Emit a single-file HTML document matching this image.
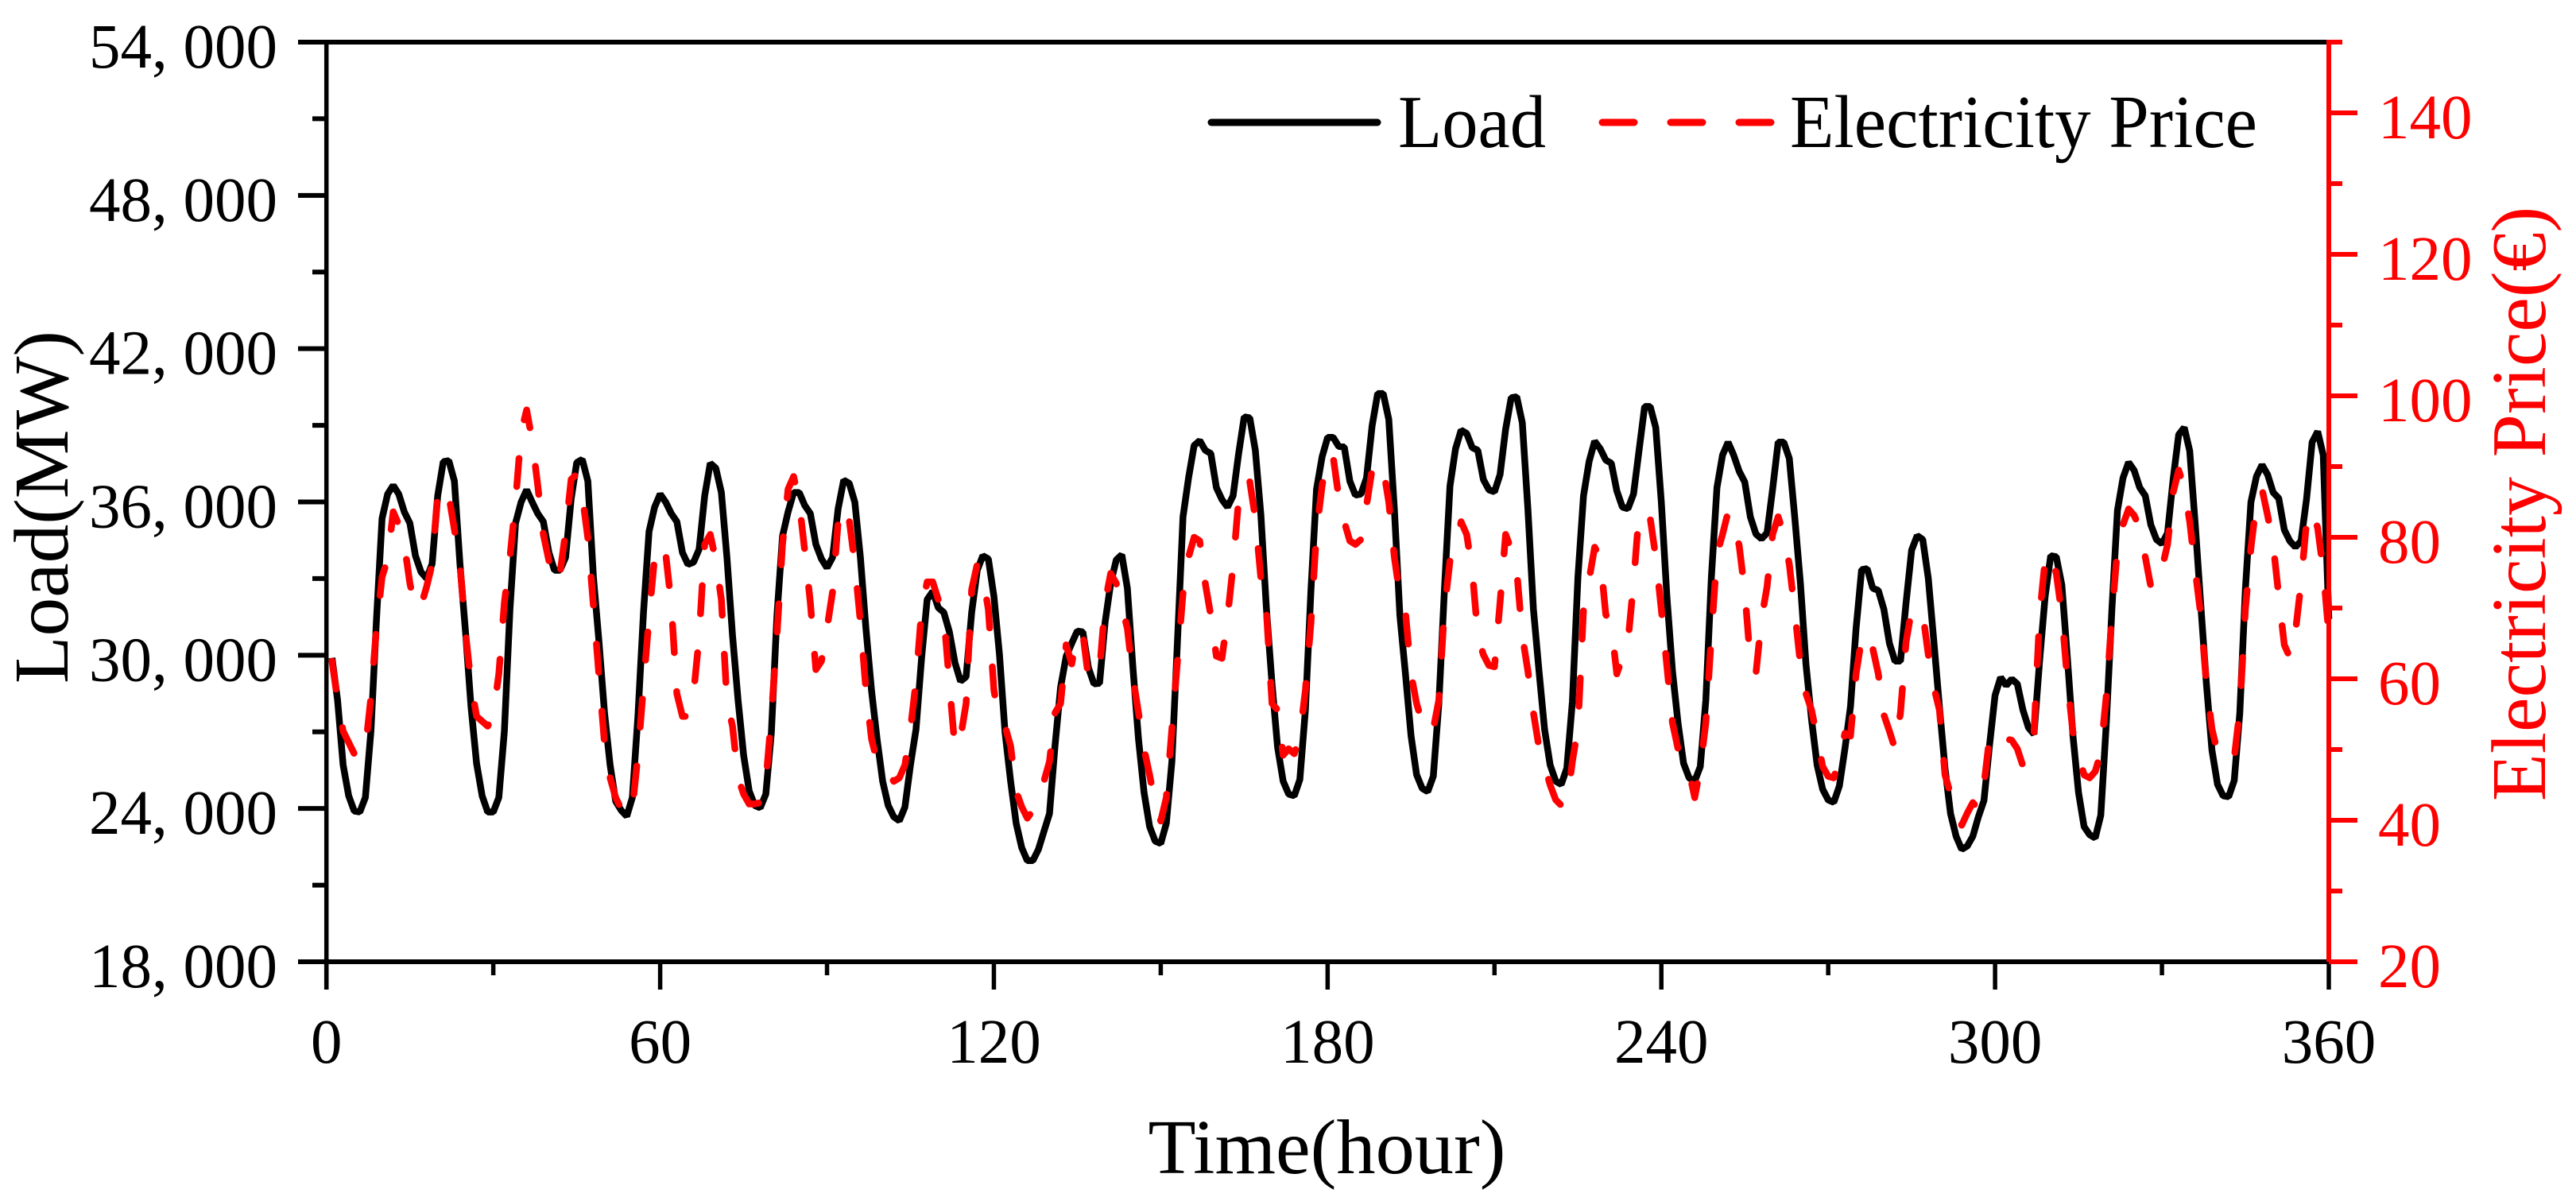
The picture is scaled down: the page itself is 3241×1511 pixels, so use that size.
<!DOCTYPE html>
<html>
<head>
<meta charset="utf-8">
<title>Load and Electricity Price</title>
<style>
html,body{margin:0;padding:0;background:#fff;}
svg{display:block;}
text{font-family:"Liberation Serif",serif;}
</style>
</head>
<body>
<svg id="chart" width="3241" height="1511" viewBox="0 0 3241 1511" xmlns="http://www.w3.org/2000/svg">
  <rect x="0" y="0" width="3241" height="1511" fill="#fff"/>
  <g id="series"></g>
  <g id="axes"></g>
  <text x="1669.5" y="1476" font-size="98" textLength="450" lengthAdjust="spacingAndGlyphs" text-anchor="middle" fill="#000">Time(hour)</text>
  <text transform="translate(85,638) rotate(-90)" font-size="97.5" text-anchor="middle" fill="#000">Load(MW)</text>
  <text transform="translate(3202,634) rotate(-90)" font-size="98" text-anchor="middle" fill="#f00">Electricity Price(€)</text>
  <g>
    <line x1="1524" y1="154" x2="1733" y2="154" stroke="#000" stroke-width="9" stroke-linecap="round"/>
    <text x="1759" y="185" font-size="94" textLength="186" lengthAdjust="spacingAndGlyphs" fill="#000">Load</text>
    <line x1="2016" y1="154" x2="2228" y2="154" stroke="#f00" stroke-width="9" stroke-linecap="round" stroke-dasharray="40 46"/>
    <text x="2252" y="185" font-size="94" textLength="588" lengthAdjust="spacingAndGlyphs" fill="#000">Electricity Price</text>
  </g>
</svg>
<script>
const firstHour = 1;
const loadValues = [
29894,28243,25703,24497,23900,23861,24433,27036,31418,35355,36308,36650,36308,35609,35165,33895,33260,33006,33577,36244,37578,37616,36816,33577,
30910,27989,25766,24497,23861,23861,24433,27036,31799,35165,35990,36473,35990,35546,35228,34022,33323,33323,33831,36117,37539,37666,36816,33069,
30529,27735,25703,24281,23925,23696,24433,27608,31672,34847,35799,36308,35990,35546,35228,34022,33552,33641,34149,36244,37514,37324,36371,33831,
30783,28243,26084,24687,24116,24027,24560,26973,31545,34657,35609,36371,36371,35863,35546,34339,33768,33425,33831,35736,36854,36727,35990,33831,
31037,28624,26719,25068,24116,23671,23519,24052,25703,27100,29894,32180,32498,31863,31672,30910,29704,28980,29157,31672,33323,33895,33768,32307,
30021,26973,25068,23417,22465,21957,21957,22401,23100,23798,26465,28751,29958,30466,30948,30910,29513,28878,28903,31291,32815,33729,33933,32625,
29513,26719,24624,23290,22719,22630,23417,25830,30529,35419,36943,38213,38403,38022,37895,36562,36092,35799,36244,37895,39330,39292,38022,35482,
31799,28878,26402,25068,24560,24497,25132,27862,32561,36498,37768,38530,38530,38174,38149,36816,36269,36308,36943,38975,40244,40244,39229,35736,
31545,29259,26846,25322,24789,24662,25259,28116,32561,36625,38086,38809,38682,38124,38022,36879,36473,36397,37070,38848,40079,40118,39102,35736,
31799,29386,27100,25703,25068,24941,25576,28180,33069,36244,37578,38378,38086,37641,37514,36435,35799,35736,36308,38022,39737,39737,38911,35990,
32307,29386,27354,25766,25195,25068,25640,28243,33069,36562,37832,38340,37832,37197,36778,35419,34745,34555,34784,36498,38340,38340,37705,35355,
32815,29640,27481,25703,24751,24332,24243,24878,26338,27989,31037,33348,33387,32625,32536,31799,30466,29767,29767,32053,34110,34682,34530,33006,
30529,27989,25576,23798,22909,22401,22528,22909,23671,24306,26465,28434,29132,28814,29068,28878,27862,27164,26909,29767,32307,33895,33857,32751,
29894,26846,24624,23290,22973,22845,23735,27354,31799,35672,36943,37552,37235,36562,36244,35101,34530,34364,34784,36879,38632,38911,37997,35101,
31926,28878,26275,24941,24497,24458,25094,27735,32561,35990,37006,37451,37070,36371,36142,34911,34466,34237,34466,36117,38340,38759,37832,31418
];
const priceValues = [
62.5,57.0,52.6,51.0,49.4,48.7,50.1,57.4,67.3,74.4,76.9,83.6,81.8,79.0,73.5,69.8,70.3,73.0,76.2,86.3,87.3,85.9,81.1,76.2,
66.6,59.3,54.7,54.0,53.3,54.9,60.7,70.8,77.2,85.0,94.8,98.0,93.7,87.3,80.4,76.7,73.5,74.9,80.8,88.2,88.9,85.9,79.9,70.3,
60.4,50.8,46.0,43.2,41.6,40.5,41.6,49.2,59.0,68.7,77.2,79.2,77.6,70.5,57.9,54.7,54.7,57.9,65.9,79.0,80.4,76.7,71.2,56.8,
53.3,46.0,43.7,42.3,42.3,42.5,45.3,54.7,66.1,79.0,86.8,88.6,85.0,78.1,70.8,61.3,62.5,67.1,72.3,82.2,84.6,82.4,76.2,68.0,
58.4,51.5,48.3,46.8,46.8,45.5,46.0,47.8,52.9,59.7,69.8,73.7,73.7,71.2,68.9,59.3,50.1,51.7,56.5,72.6,76.2,74.4,69.8,58.4,
53.8,53.3,50.5,44.1,41.9,40.3,41.4,42.3,45.5,48.3,55.2,56.5,64.8,62.1,66.6,66.4,60.1,60.2,61.1,70.8,74.9,73.5,70.3,67.1,
60.2,55.2,50.1,46.4,42.3,39.9,43.2,52.9,62.5,72.1,77.2,80.0,79.5,73.5,68.9,63.2,62.9,68.7,76.0,85.4,88.4,87.9,82.7,74.2,
69.4,56.5,55.6,49.2,50.1,49.4,51.9,58.4,68.0,80.8,87.3,91.8,91.4,85.7,82.2,79.5,79.0,79.7,84.5,89.6,90.8,89.8,85.0,77.2,
71.7,69.4,60.7,56.5,53.8,52.2,52.9,57.0,69.8,76.7,78.3,82.2,80.4,75.3,66.1,63.4,61.9,61.7,70.8,80.4,78.3,75.3,66.1,61.1,
55.2,50.3,47.8,45.0,42.9,42.1,42.2,48.3,53.1,69.8,74.0,78.6,77.2,69.1,67.5,60.7,63.0,65.2,73.5,83.6,83.7,82.7,77.2,69.8,
61.8,53.8,50.1,48.0,46.9,43.2,47.4,53.8,66.1,77.6,80.4,83.6,82.2,78.8,72.3,62.5,60.7,68.4,73.0,80.4,82.9,80.4,76.2,69.4,
62.0,57.9,55.6,51.7,47.6,46.2,46.0,48.7,52.3,51.9,60.7,65.7,66.6,64.3,60.7,54.9,52.6,50.1,55.2,65.2,69.8,69.8,69.3,63.4,
58.8,55.6,46.4,43.7,42.1,39.3,41.0,42.5,41.6,45.0,51.7,52.2,50.9,51.5,51.3,50.1,47.7,48.4,52.4,68.9,76.9,77.9,74.9,69.1,
59.7,52.4,49.2,46.4,46.0,46.9,49.6,57.7,68.9,78.5,81.8,84.0,83.1,81.3,77.2,73.0,72.8,75.6,79.0,86.3,89.5,87.0,82.2,75.3,
68.9,59.3,52.9,49.6,48.4,48.2,48.8,55.6,69.8,78.5,85.0,86.8,83.1,79.0,71.7,64.8,63.0,66.6,73.5,82.2,84.0,81.3,75.3,66.2
];
const xMajorTicks = [0,60,120,180,240,300,360];
const xMinorTicks = [30,90,150,210,270,330];
const loadMajorTicks = [18000,24000,30000,36000,42000,48000,54000];
const loadMinorTicks = [21000,27000,33000,39000,45000,51000];
const priceMajorTicks = [20,40,60,80,100,120,140];
const priceMinorTicks = [30,50,70,90,110,130,150];

const plotLeft = 410.7, plotRight = 2930, plotTop = 53, plotBottom = 1210;
const xDomain = [0,360], loadDomain = [18000,54000], priceDomain = [20,150];
function xScale(v){ return plotLeft + (v-xDomain[0])/(xDomain[1]-xDomain[0])*(plotRight-plotLeft); }
function loadScale(v){ return plotBottom - (v-loadDomain[0])/(loadDomain[1]-loadDomain[0])*(plotBottom-plotTop); }
function priceScale(v){ return plotBottom - (v-priceDomain[0])/(priceDomain[1]-priceDomain[0])*(plotBottom-plotTop); }

const NS = 'http://www.w3.org/2000/svg';
const seriesLayer = document.getElementById('series');
const axesLayer = document.getElementById('axes');
function makeLine(parent,x1,y1,x2,y2,color,width){
  const el = document.createElementNS(NS,'line');
  el.setAttribute('x1',x1); el.setAttribute('y1',y1);
  el.setAttribute('x2',x2); el.setAttribute('y2',y2);
  el.setAttribute('stroke',color); el.setAttribute('stroke-width',width);
  parent.appendChild(el);
  return el;
}
function makeText(parent,x,y,str,color,anchor){
  const el = document.createElementNS(NS,'text');
  el.setAttribute('x',x); el.setAttribute('y',y);
  el.setAttribute('font-size','79');
  el.setAttribute('fill',color);
  el.setAttribute('text-anchor',anchor);
  el.textContent = str;
  parent.appendChild(el);
  return el;
}
function makePath(parent,values,scale,color){
  const el = document.createElementNS(NS,'path');
  let d = '';
  values.forEach(function(v,i){
    d += (i?'L':'M') + xScale(firstHour+i).toFixed(1) + ' ' + scale(v).toFixed(1);
  });
  el.setAttribute('d',d);
  el.setAttribute('fill','none');
  el.setAttribute('stroke',color);
  el.setAttribute('stroke-width','8.5');
  parent.appendChild(el);
  return el;
}
function fmtLoad(v){ const s = String(v); return s.slice(0,s.length-3)+', '+s.slice(-3); }

const loadPath = makePath(seriesLayer,loadValues,loadScale,'#000');
loadPath.setAttribute('stroke-linejoin','bevel');



const pricePath = makePath(seriesLayer,priceValues,priceScale,'#f00');
pricePath.setAttribute('stroke-linejoin','round');
pricePath.setAttribute('stroke-linecap','round');
pricePath.setAttribute('stroke-dasharray','35.6 49');



xMajorTicks.forEach(function(v){
  const t = makeLine(axesLayer,xScale(v),plotBottom,xScale(v),1245,'#000',5.5);
  
  
  const l = makeText(axesLayer,xScale(v),1337,String(v),'#000','middle');
  
  
});
xMinorTicks.forEach(function(v){
  const t = makeLine(axesLayer,xScale(v),plotBottom,xScale(v),1227,'#000',5.5);
  
  
});
loadMajorTicks.forEach(function(v){
  const t = makeLine(axesLayer,375,loadScale(v),plotLeft,loadScale(v),'#000',6);
  
  
  const l = makeText(axesLayer,349,loadScale(v)+32,fmtLoad(v),'#000','end');
  
  
});
loadMinorTicks.forEach(function(v){
  const t = makeLine(axesLayer,393,loadScale(v),plotLeft,loadScale(v),'#000',6);
  
  
});

const leftSpine = makeLine(axesLayer,plotLeft,plotTop-3,plotLeft,1245,'#000',5.5);


const bottomSpine = makeLine(axesLayer,plotLeft,plotBottom,plotRight,plotBottom,'#000',6);


const topSpine = makeLine(axesLayer,plotLeft,plotTop,plotRight,plotTop,'#000',6);



priceMajorTicks.forEach(function(v){
  const t = makeLine(axesLayer,plotRight,priceScale(v),2966,priceScale(v),'#f00',6);
  
  
  const l = makeText(axesLayer,2992,priceScale(v)+32,String(v),'#f00','start');
  
  
});
priceMinorTicks.forEach(function(v){
  const t = makeLine(axesLayer,plotRight,priceScale(v),2947,priceScale(v),'#f00',6);
  
  
});
const rightSpine = makeLine(axesLayer,plotRight,plotTop-3,plotRight,plotBottom,'#f00',6);


</script>
</body>
</html>
